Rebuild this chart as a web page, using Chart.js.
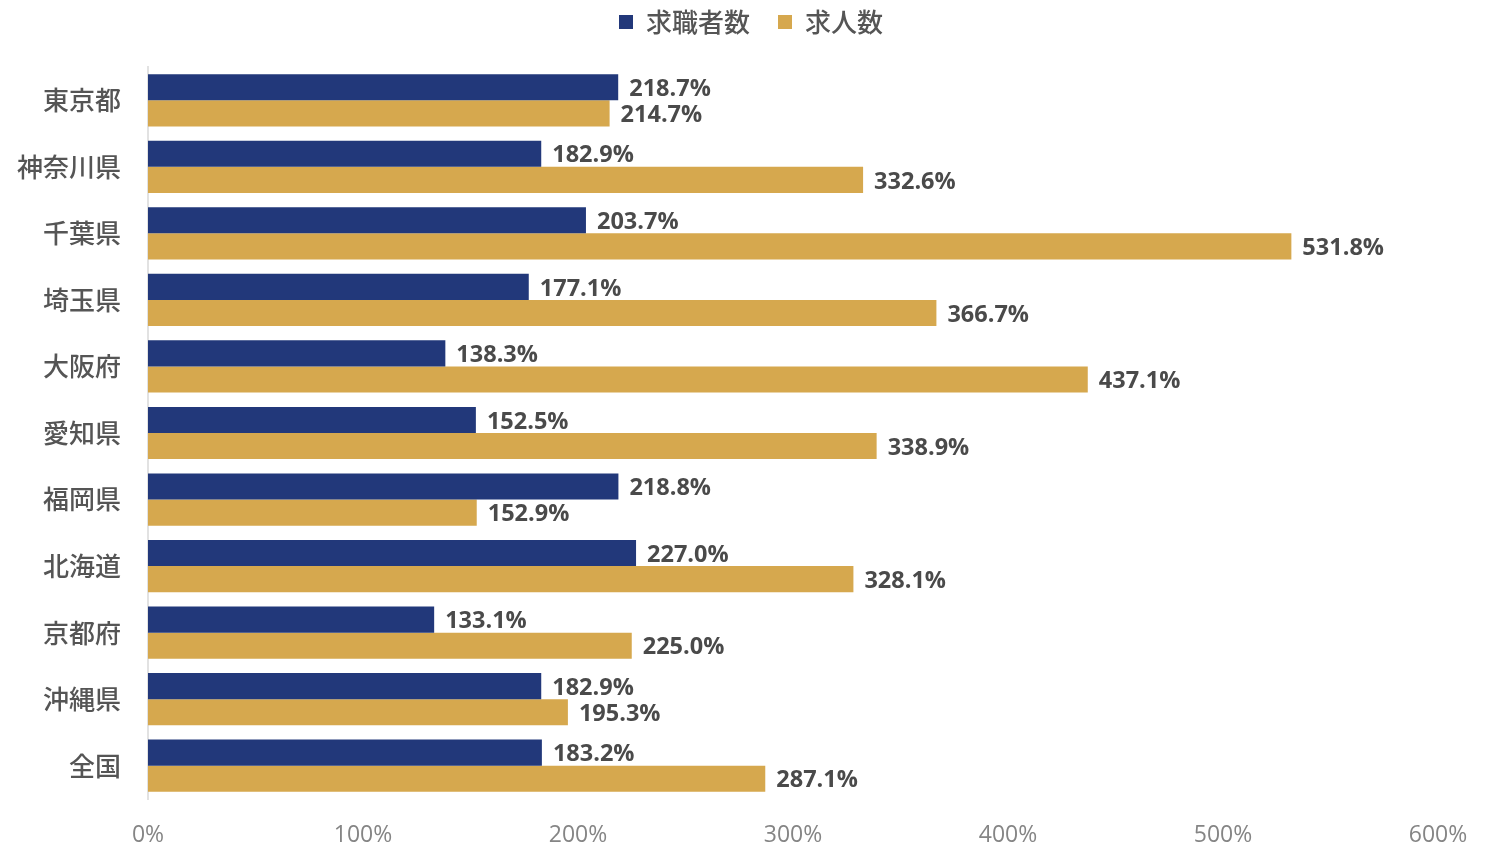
<!DOCTYPE html>
<html>
<head>
<meta charset="utf-8">
<script src="https://cdn.jsdelivr.net/npm/chart.js@4"></script>
<style>
  html, body { margin: 0; padding: 0; background: #fff; }
  #wrap { width: 1486px; height: 845px; }
</style>
</head>
<body>
<div id="wrap"><canvas id="my-chart" width="1486" height="845"></canvas></div>
<script>
'use strict';

let prefNames = ['東京都', '神奈川県', '千葉県', '埼玉県', '大阪府', '愛知県', '福岡県', '北海道', '京都府', '沖縄県', '全国'];
let seekerRates = [218.7, 182.9, 203.7, 177.1, 138.3, 152.5, 218.8, 227.0, 133.1, 182.9, 183.2];
let offerRates = [214.7, 332.6, 531.8, 366.7, 437.1, 338.9, 152.9, 328.1, 225.0, 195.3, 287.1];
let seriesNames = ['求職者数', '求人数'];

let canvasElem = document.getElementById('my-chart');

// writes the value at the end of every bar
let barLabels = {
  id: 'barLabels',
  afterDatasetsDraw(chart) {
    let ctx = chart.ctx;
    ctx.save();
    ctx.font = 'bold 23.5px "Open Sans", sans-serif';
    ctx.fillStyle = '#4a4a4a';
    ctx.textAlign = 'left';
    ctx.textBaseline = 'middle';
    chart.data.datasets.forEach(function (ds, i) {
      let meta = chart.getDatasetMeta(i);
      meta.data.forEach(function (bar, j) {
        ctx.fillText(ds.data[j].toFixed(1) + '%', bar.x + 11, bar.y + 2);
      });
    });
    ctx.restore();
  }
};

// legend: fixed height so the plot starts lower, then nudged up and right
let legendSpot = {
  id: 'legendSpot',
  beforeInit(chart) {
    let origFit = chart.legend.fit;
    chart.legend.fit = function () {
      origFit.call(this);
      this.height = 67;
    };
  },
  afterLayout(chart) {
    let lg = chart.legend;
    lg.left += 32;
    lg.right += 32;
    lg.top -= 19;
    lg.bottom -= 19;
  }
};

function renderChart() {
  let chartObj = {
    type: 'bar',
    data: {
      labels: prefNames,
      datasets: [{
        label: seriesNames[0],
        data: seekerRates,
        backgroundColor: '#22387a',
        categoryPercentage: 0.785,
        barPercentage: 1
      },
      {
        label: seriesNames[1],
        data: offerRates,
        backgroundColor: '#d6a84e',
        categoryPercentage: 0.785,
        barPercentage: 1
      }]
    },
    options: {
      indexAxis: 'y',
      responsive: false,
      animation: false,
      layout: { padding: { left: 0, right: 48, top: 0, bottom: 0 } },
      scales: {
        x: {
          min: 0,
          max: 600,
          grid: { display: false, drawTicks: false },
          border: { display: false },
          afterFit: function (axis) {
            axis.height = 46;
            axis.paddingLeft = 0;
            axis.paddingRight = 0;
          },
          ticks: {
            stepSize: 100,
            padding: 23,
            color: '#858585',
            font: { size: 23, family: '"Open Sans", sans-serif' },
            callback: function (v) { return v + '%'; }
          }
        },
        y: {
          grid: { display: false, drawTicks: false },
          border: { display: true, color: '#e2e2e2', width: 2 },
          afterFit: function (axis) { axis.width = 148; },
          ticks: {
            padding: 27,
            color: '#555555',
            font: { size: 26, family: '"Noto Sans CJK JP", sans-serif', weight: '500' }
          }
        }
      },
      plugins: {
        legend: {
          position: 'top',
          labels: {
            color: '#555555',
            boxWidth: 14,
            boxHeight: 14,
            padding: 28,
            font: { size: 26, family: '"Noto Sans CJK JP", sans-serif', weight: '500' }
          }
        },
        tooltip: { enabled: false }
      }
    },
    plugins: [barLabels, legendSpot]
  };

  new Chart(canvasElem, chartObj); //eslint-disable-line
}

renderChart();
</script>
</body>
</html>
